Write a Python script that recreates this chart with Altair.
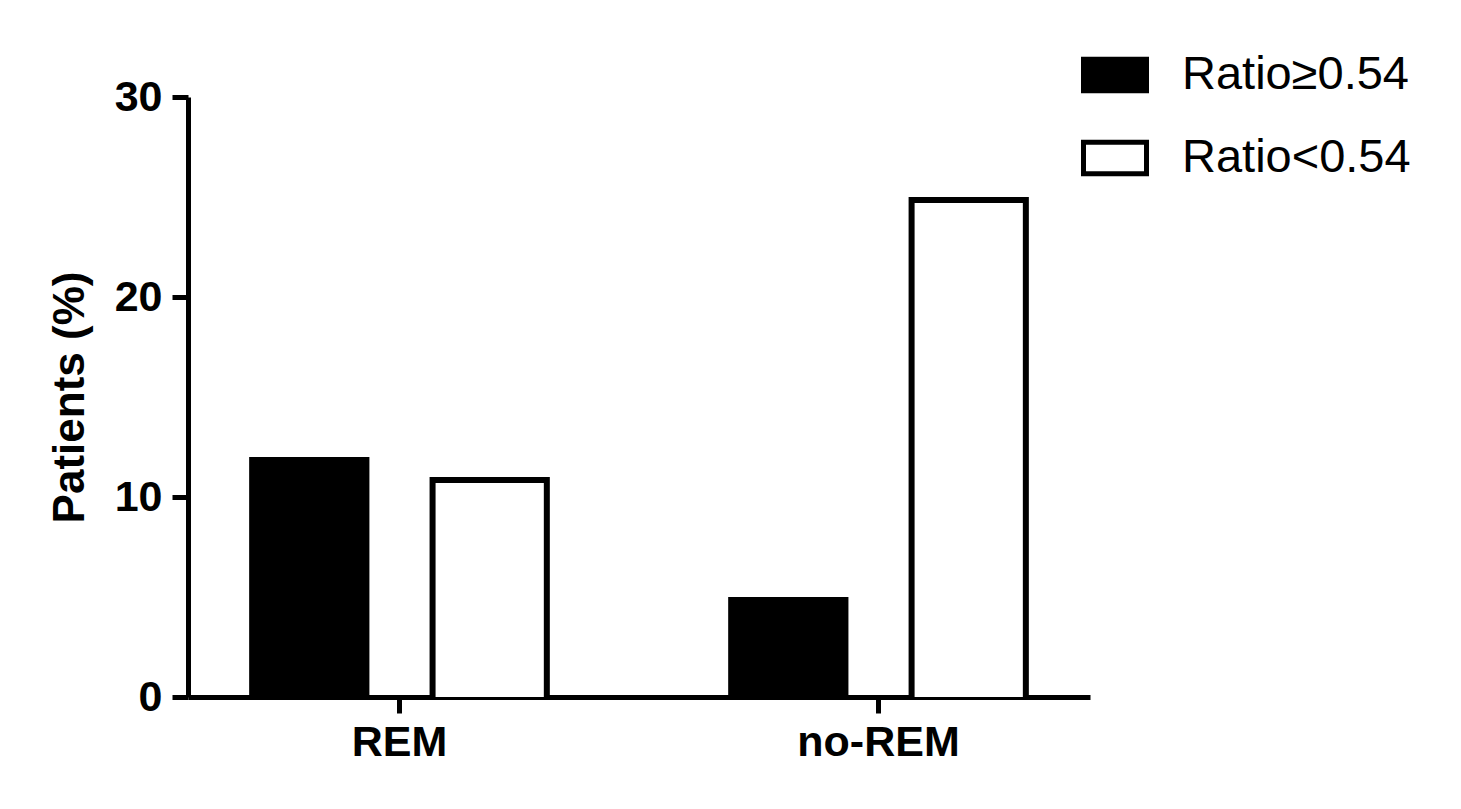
import altair as alt
import pandas as pd

categories = ["REM", "no-REM"]
groups = ["Ratio≥0.54", "Ratio<0.54"]
values_high = [12, 5]
values_low = [11, 25]
y_ticks = [0, 10, 20, 30]

rows = []
for i, c in enumerate(categories):
    rows.append({"cat": c, "group": groups[0], "value": values_high[i]})
    rows.append({"cat": c, "group": groups[1], "value": values_low[i]})
df = pd.DataFrame(rows)

FONT = "Liberation Sans"

chart = alt.Chart(df).mark_bar(
    stroke="black", strokeWidth=6, opacity=1, yOffset=3, clip=True
).encode(
    x=alt.X(
        "cat:N",
        sort=categories,
        scale=alt.Scale(paddingInner=0.117, paddingOuter=0),
        axis=alt.Axis(
            title=None, labelAngle=0, labelFont=FONT, labelFontSize=43,
            labelFontWeight="bold", labelColor="black", labelPadding=8,
            tickSize=16, tickWidth=5, tickColor="black",
            domainWidth=5, domainColor="black", grid=False,
        ),
    ),
    xOffset=alt.XOffset(
        "group:N", sort=groups,
        scale=alt.Scale(paddingInner=0.3667, paddingOuter=0.3556),
    ),
    y=alt.Y(
        "value:Q",
        scale=alt.Scale(domain=[0, 30], nice=False),
        axis=alt.Axis(
            values=y_ticks, title="Patients (%)", titleFont=FONT,
            titleFontSize=44, titleFontWeight="bold", titleColor="black",
            titlePadding=22,
            labelFont=FONT, labelFontSize=43, labelFontWeight="bold",
            labelColor="black", labelPadding=10,
            tickSize=16, tickWidth=5, tickColor="black",
            domainWidth=5, domainColor="black", grid=False,
        ),
    ),
    fill=alt.Fill(
        "group:N",
        scale=alt.Scale(domain=groups, range=["black", "white"]),
        legend=alt.Legend(
            title=None, orient="none", legendX=893, legendY=-56,
            symbolType="M-1,-0.5L1,-0.5L1,0.5L-1,0.5Z", symbolSize=3969,
            symbolStrokeColor="black", symbolStrokeWidth=5, symbolOpacity=1,
            labelFont=FONT, labelFontSize=47, labelColor="black",
            labelOffset=33, rowPadding=23, padding=0, labelLimit=0,
        ),
    ),
).properties(
    width=902,
    height=600,
    autosize=alt.AutoSizeParams(type="none"),
    padding={"left": 180, "top": 89, "right": 355, "bottom": 100},
).configure_view(stroke=None)

chart.save("out.html", embed_options={"renderer": "svg", "actions": False})
